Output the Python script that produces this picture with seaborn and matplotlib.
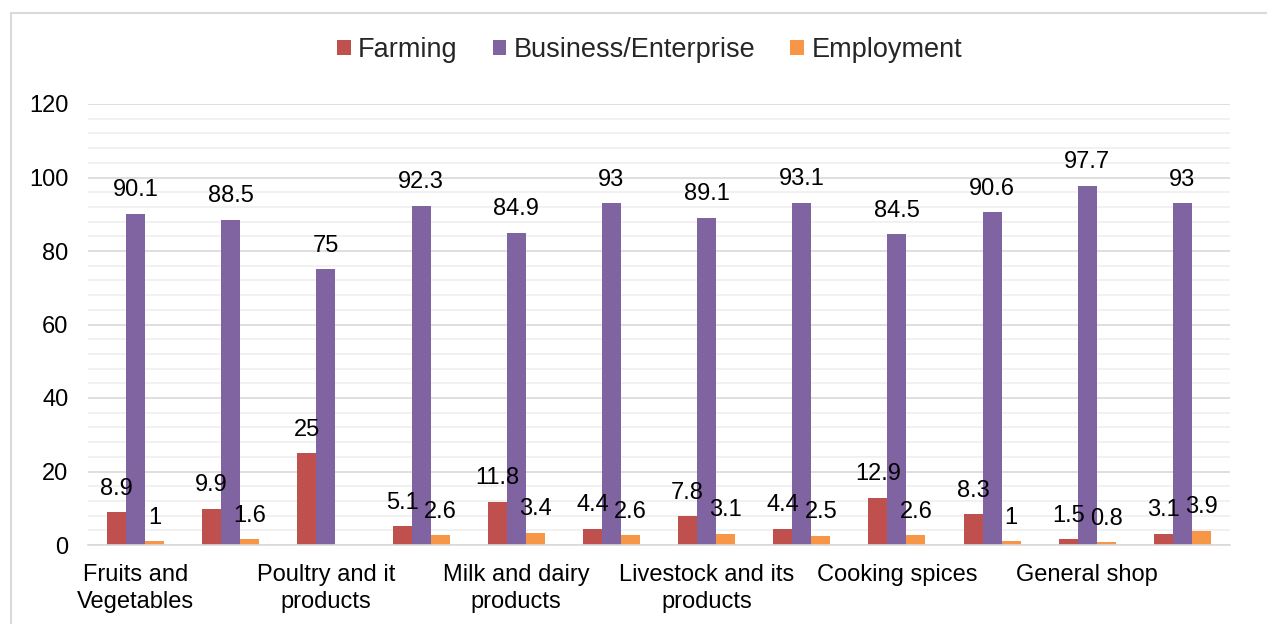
import matplotlib
matplotlib.use("Agg")
import matplotlib.pyplot as plt
from matplotlib.lines import Line2D
from matplotlib.ticker import MultipleLocator
import numpy as np
import pandas as pd
import seaborn as sns

groups = list(range(12))
tick_labels = ["Fruits and\nVegetables", "Poultry and it\nproducts", "Milk and dairy\nproducts",
               "Livestock and its\nproducts", "Cooking spices", "General shop"]
series = ["Farming", "Business/Enterprise", "Employment"]
farming = [8.9, 9.9, 25, 5.1, 11.8, 4.4, 7.8, 4.4, 12.9, 8.3, 1.5, 3.1]
business = [90.1, 88.5, 75, 92.3, 84.9, 93, 89.1, 93.1, 84.5, 90.6, 97.7, 93]
employment = [1, 1.6, np.nan, 2.6, 3.4, 2.6, 3.1, 2.5, 2.6, 1, 0.8, 3.9]
colors = ["#C0504D", "#8064A2", "#F79646"]

rows = []
for name, vals in zip(series, [farming, business, employment]):
    for g, v in zip(groups, vals):
        rows.append({"group": g, "series": name, "value": v})
df = pd.DataFrame(rows)

sns.set_theme(style="white")
plt.rcParams['font.family'] = ['Liberation Sans', 'DejaVu Sans']

fig = plt.figure(figsize=(12.67, 6.24), dpi=100)
ax = fig.add_axes([88/1267, 1-545/624, (1230-88)/1267, (545-104)/624])

sns.barplot(data=df, x="group", y="value", hue="series", hue_order=series,
            order=groups, palette=colors, width=0.6, gap=0, ax=ax,
            saturation=1, errorbar=None, legend=True, edgecolor="none", linewidth=0)

for cont in ax.containers:
    labels = []
    for bar in cont:
        h = bar.get_height()
        labels.append("" if (h is None or np.isnan(h)) else f"{h:g}")
    ax.bar_label(cont, labels=labels, padding=9, fontsize=17, color="#000000")

ax.set_ylim(0, 120)
ax.set_xlim(-0.5, 11.5)
ax.yaxis.set_major_locator(MultipleLocator(20))
ax.yaxis.set_minor_locator(MultipleLocator(4))
ax.grid(axis="y", which="major", color="#D9D9D9", linewidth=1.2)
ax.grid(axis="y", which="minor", color="#EFEFEF", linewidth=1.2)
ax.set_axisbelow(True)
for s in ["top", "right", "left"]:
    ax.spines[s].set_visible(False)
ax.spines["bottom"].set_color("#D9D9D9")
ax.spines["bottom"].set_linewidth(1.2)

ax.set_xticks([0, 2, 4, 6, 8, 10])
ax.set_xticklabels(tick_labels, fontsize=17, color="#000000", linespacing=1.28)
ax.tick_params(axis="x", length=0, pad=14)
ax.tick_params(axis="y", which="both", length=0, labelsize=17, colors="#000000", pad=14)
ax.set_xlabel("")
ax.set_ylabel("")

handles, labs = ax.get_legend_handles_labels()
ax.get_legend().remove()
fig.legend(handles, labs, loc="center", bbox_to_anchor=(0.5126, 1-50/624), ncol=3,
           frameon=False, fontsize=19.5, handlelength=0.5, handleheight=0.5,
           handletextpad=0.27, columnspacing=1.3)

fig.add_artist(Line2D([11/1267, 11/1267], [0, 1-13/624], transform=fig.transFigure,
                      color="#D9D9D9", linewidth=1.5))
fig.add_artist(Line2D([11/1267, 1], [1-13/624, 1-13/624], transform=fig.transFigure,
                      color="#D9D9D9", linewidth=1.5))

fig.savefig("out.png", dpi=100)
